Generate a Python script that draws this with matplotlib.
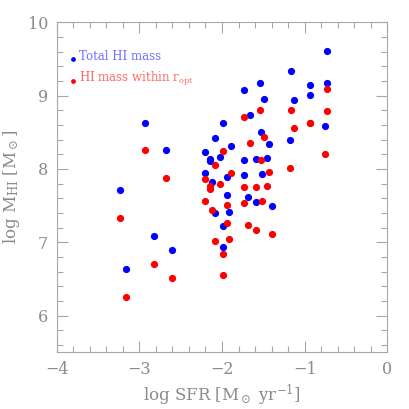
import numpy as np
import matplotlib
matplotlib.use("Agg")
from matplotlib import pyplot as plt
from matplotlib.ticker import MultipleLocator

# log SFR of each galaxy (same for both HI estimates)
log_sfr = [-3.24, -3.16, -2.93, -2.82, -2.68, -2.60, -2.20, -2.20, -2.14, -2.14,
           -2.08, -2.12, -2.09, -2.02, -1.99, -1.89, -1.935, -1.94, -1.92, -1.99,
           -1.99, -1.73, -1.66, -1.74, -1.74, -1.69, -1.59, -1.59, -1.54, -1.49,
           -1.53, -1.43, -1.46, -1.52, -1.39, -1.17, -1.13, -1.18, -0.93, -0.94,
           -0.73, -0.73, -0.75]

# total HI mass
log_mhi_total = [7.71, 6.64, 8.63, 7.09, 8.26, 6.89, 8.23, 7.94, 8.14, 8.11,
                 8.42, 7.82, 7.40, 8.16, 8.62, 8.31, 7.89, 7.64, 7.42, 7.22,
                 6.94, 9.08, 8.74, 8.12, 7.92, 7.62, 7.55, 8.14, 9.17, 8.95,
                 8.50, 8.34, 8.15, 7.93, 7.49, 9.33, 8.94, 8.39, 9.15, 9.01,
                 9.61, 9.17, 8.59]

# HI mass within r_opt
log_mhi_ropt = [7.33, 6.26, 8.26, 6.71, 7.88, 6.51, 7.86, 7.56, 7.77, 7.73,
                8.05, 7.44, 7.02, 7.79, 8.25, 7.94, 7.51, 7.26, 7.04, 6.84,
                6.56, 8.71, 8.36, 7.75, 7.54, 7.24, 7.17, 7.76, 8.80, 8.43,
                8.12, 7.96, 7.77, 7.56, 7.11, 8.81, 8.56, 8.01, 8.63, 8.62,
                9.09, 8.79, 8.21]

grey = "#8a8a8a"
plt.rcParams["font.family"] = ["DejaVu Serif"]
plt.rcParams["mathtext.fontset"] = "dejavuserif"

fig = plt.figure(figsize=(4.09, 4.09), dpi=100)
ax = fig.add_axes([0.1386, 0.1386, 0.8085, 0.8069])

ax.scatter(log_sfr, log_mhi_total, s=27, color="#0000ff", linewidths=0, zorder=3)
ax.scatter(log_sfr, log_mhi_ropt, s=27, color="#ff0000", linewidths=0, zorder=3)

# hand-made legend, like the original
ax.plot([-3.80], [9.505], "o", color="#0000ff", markersize=2.4)
ax.plot([-3.80], [9.205], "o", color="#ff0000", markersize=2.4)
ax.text(-3.73, 9.53, "Total HI mass", color="#7070ff", fontsize=8.5, va="center")
ax.text(-3.73, 9.23, r"HI mass within r$_{\rm opt}$", color="#ff6a6a",
        fontsize=8.5, va="center")

ax.set_xlim(-4, 0)
ax.set_ylim(5.5, 10)
ax.xaxis.set_major_locator(MultipleLocator(1))
ax.xaxis.set_minor_locator(MultipleLocator(0.2))
ax.yaxis.set_major_locator(MultipleLocator(1))
ax.yaxis.set_minor_locator(MultipleLocator(0.2))
ax.tick_params(which="both", direction="in", top=True, right=True,
               color="#a8a8a8", width=0.8, labelcolor=grey, labelsize=11.5)
ax.tick_params(which="major", length=8, pad=6)
ax.tick_params(which="minor", length=4)
for sp in ax.spines.values():
    sp.set_color("#a8a8a8")
    sp.set_linewidth(0.8)

ax.set_xlabel(r"log SFR [M$_\odot$ yr$^{-1}$]", color=grey, fontsize=12)
ax.set_ylabel(r"log M$_{\rm HI}$ [M$_\odot$]", color=grey, fontsize=12)

fig.savefig("out.png", dpi=100)
